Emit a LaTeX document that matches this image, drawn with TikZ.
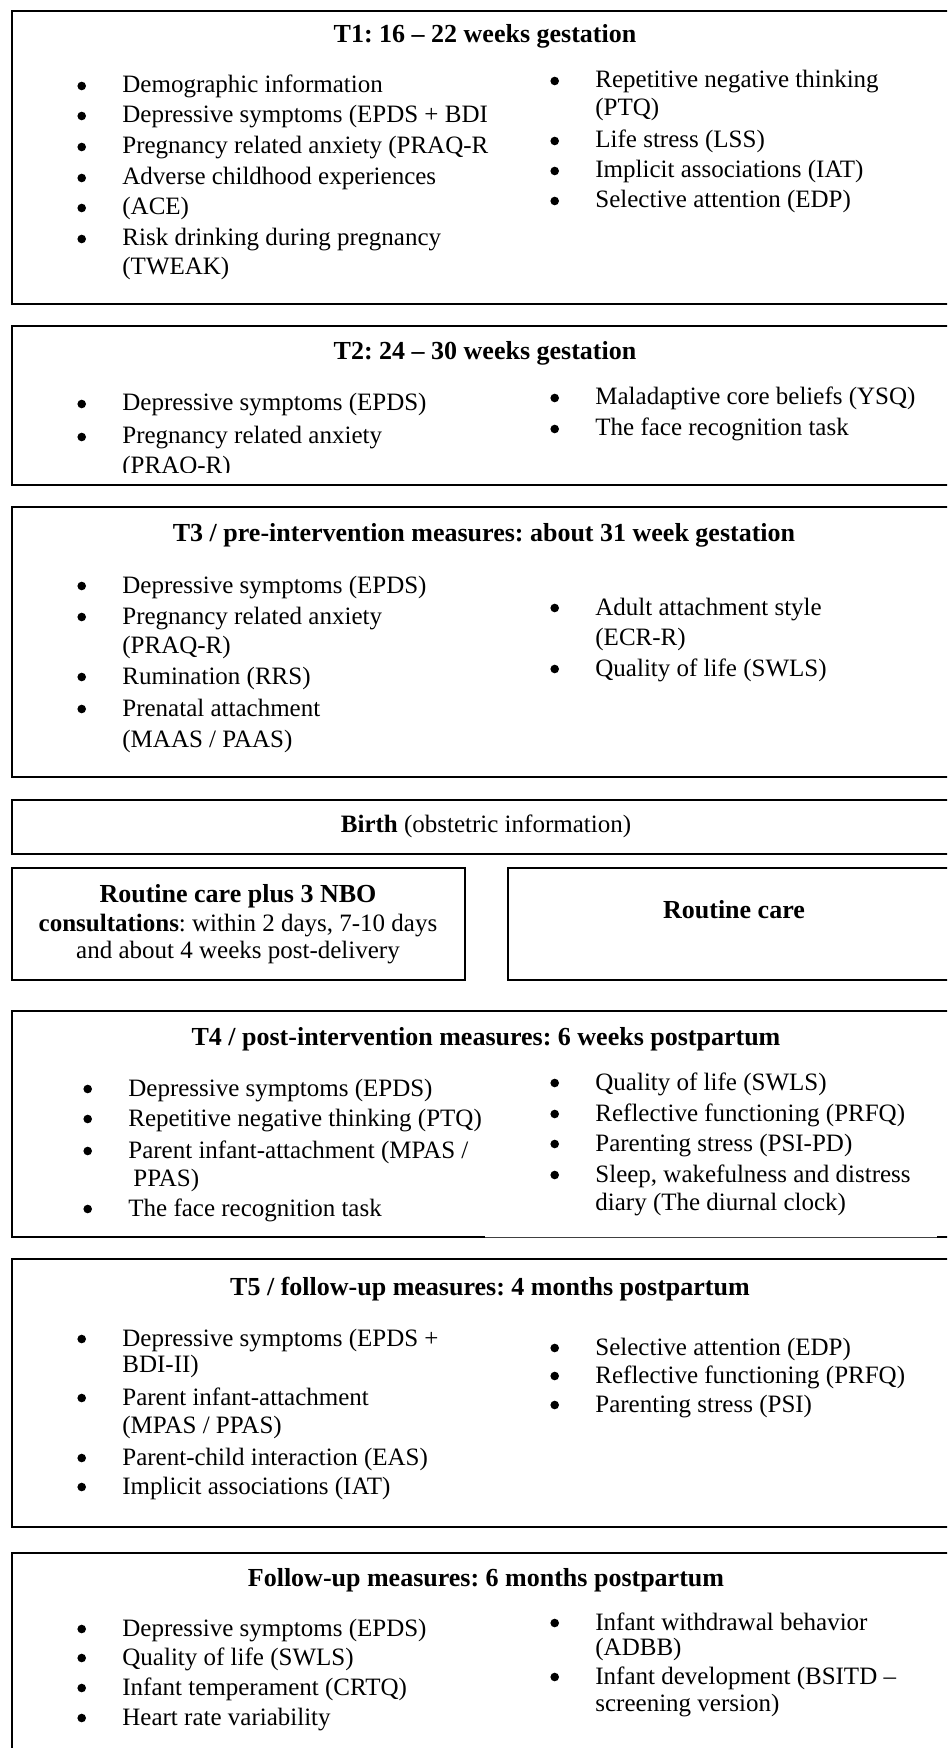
\documentclass[tikz,border=0pt]{standalone}
\usepackage{fontspec}
\setmainfont{Liberation Serif}
\frenchspacing

\begin{document}
\begin{tikzpicture}[
    x=0.5pt, y=-0.5pt,
    panel/.style={rectangle, draw=black, line width=1pt, inner sep=0pt, anchor=north west},
    heading/.style={anchor=base, inner sep=0pt, font=\bfseries\fontsize{13}{15}\selectfont},
    plaintext/.style={anchor=base, inner sep=0pt, font=\fontsize{12.5}{15}\selectfont},
    mtext/.style={anchor=base west, inner sep=0pt, text height=9pt, text depth=3pt, font=\fontsize{12.5}{15}\selectfont},
    bulletdot/.style={circle, fill=black, inner sep=0pt, minimum size=4.3pt, xshift=-17.8pt, yshift=0.5pt},
    measure/.style={mtext, label={[bulletdot]left:{}}}
]
\path[use as bounding box] (0,0) rectangle (947,1748);
\clip (0,0) rectangle (947,1748);

\node[panel, minimum width=474.5pt, minimum height=146.5pt] (t1) at (11,10) {};
\node[heading] (t1head) at (485,43) {T1: 16 – 22 weeks gestation};
\node[measure] (t1a) at (122,93) {Demographic information};
\node[measure] (t1b) at (122,123) {Depressive symptoms (EPDS + BDI};
\node[measure] (t1c) at (122,154) {Pregnancy related anxiety (PRAQ-R};
\node[measure] (t1d) at (122,185) {Adverse childhood experiences};
\node[measure] (t1e) at (122,215) {(ACE)};
\node[measure] (t1f) at (122,246) {Risk drinking during pregnancy};
\node[mtext] (t1f2) at (122,275) {(TWEAK)};
\node[measure] (t1g) at (595,88) {Repetitive negative thinking};
\node[mtext] (t1g2) at (595,116) {(PTQ)};
\node[measure] (t1h) at (595,148) {Life stress (LSS)};
\node[measure] (t1i) at (595,178) {Implicit associations (IAT)};
\node[measure] (t1j) at (595,208) {Selective attention (EDP)};

\node[panel, minimum width=474.5pt, minimum height=79.5pt] (t2) at (11,325) {};
\node[heading] (t2head) at (485,360) {T2: 24 – 30 weeks gestation};
\node[measure] (t2a) at (122,411) {Depressive symptoms (EPDS)};
\node[measure] (t2b) at (122,444) {Pregnancy related anxiety};
\begin{scope}
\clip (0,325) rectangle (947,473);
\node[mtext] (t2b2) at (122,474) {(PRAQ-R)};
\end{scope}
\node[measure] (t2c) at (595,405) {Maladaptive core beliefs (YSQ)};
\node[measure] (t2d) at (595,436) {The face recognition task};

\node[panel, minimum width=474.5pt, minimum height=135pt] (t3) at (11,506) {};
\node[heading] (t3head) at (484,541) {T3 / pre-intervention measures: about 31 week gestation};
\node[measure] (t3a) at (122,593) {Depressive symptoms (EPDS)};
\node[measure] (t3b) at (122,624) {Pregnancy related anxiety};
\node[mtext] (t3b2) at (122,653) {(PRAQ-R)};
\node[measure] (t3c) at (122,684) {Rumination (RRS)};
\node[measure] (t3d) at (122,716) {Prenatal attachment};
\node[mtext] (t3d2) at (122,747) {(MAAS / PAAS)};
\node[measure] (t3e) at (595,615) {Adult attachment style};
\node[mtext] (t3e2) at (595,645) {(ECR-R)};
\node[measure] (t3f) at (595,676) {Quality of life (SWLS)};

\node[panel, minimum width=474.5pt, minimum height=27pt] (birth) at (11,799) {};
\node[plaintext] (birthtext) at (486,832) {\textbf{Birth} (obstetric information)};

\node[panel, minimum width=226.5pt, minimum height=56pt] (nbo) at (11,867) {};
\node[heading] (nbo1) at (238,902) {Routine care plus 3 NBO};
\node[plaintext] (nbo2) at (238,931) {\textbf{consultations}: within 2 days, 7-10 days};
\node[plaintext] (nbo3) at (238,958) {and about 4 weeks post-delivery};
\node[panel, minimum width=226.5pt, minimum height=56pt] (routine) at (507,867) {};
\node[heading] (routinetext) at (734,918) {Routine care};

\node[panel, minimum width=474.5pt, minimum height=113pt] (t4) at (11,1010) {};
\draw[white, line width=1.6pt] (485,1236) -- (937,1236);
\draw[black!75, line width=0.4pt] (485,1237) -- (937,1237);
\node[heading] (t4head) at (486,1045) {T4 / post-intervention measures: 6 weeks postpartum};
\node[measure] (t4a) at (128,1096) {Depressive symptoms (EPDS)};
\node[measure] (t4b) at (128,1126) {Repetitive negative thinking (PTQ)};
\node[measure] (t4c) at (128,1158) {Parent infant-attachment (MPAS /};
\node[mtext] (t4c2) at (133,1186) {PPAS)};
\node[measure] (t4d) at (128,1216) {The face recognition task};
\node[measure] (t4e) at (595,1090) {Quality of life (SWLS)};
\node[measure] (t4f) at (595,1121) {Reflective functioning (PRFQ)};
\node[measure] (t4g) at (595,1151) {Parenting stress (PSI-PD)};
\node[measure] (t4h) at (595,1182) {Sleep, wakefulness and distress};
\node[mtext] (t4h2) at (595,1210) {diary (The diurnal clock)};

\node[panel, minimum width=474.5pt, minimum height=134pt] (t5) at (11,1258) {};
\node[heading] (t5head) at (490,1295) {T5 / follow-up measures: 4 months postpartum};
\node[measure] (t5a) at (122,1346) {Depressive symptoms (EPDS +};
\node[mtext] (t5a2) at (122,1372) {BDI-II)};
\node[measure] (t5b) at (122,1405) {Parent infant-attachment};
\node[mtext] (t5b2) at (122,1433) {(MPAS / PPAS)};
\node[measure] (t5c) at (122,1465) {Parent-child interaction (EAS)};
\node[measure] (t5d) at (122,1494) {Implicit associations (IAT)};
\node[measure] (t5e) at (595,1355) {Selective attention (EDP)};
\node[measure] (t5f) at (595,1383) {Reflective functioning (PRFQ)};
\node[measure] (t5g) at (595,1412) {Parenting stress (PSI)};

\node[panel, minimum width=474.5pt, minimum height=130pt] (t6) at (11,1552) {};
\node[heading] (t6head) at (486,1586) {Follow-up measures: 6 months postpartum};
\node[measure] (t6a) at (122,1636) {Depressive symptoms (EPDS)};
\node[measure] (t6b) at (122,1665) {Quality of life (SWLS)};
\node[measure] (t6c) at (122,1695) {Infant temperament (CRTQ)};
\node[measure] (t6d) at (122,1725) {Heart rate variability};
\node[measure] (t6e) at (595,1630) {Infant withdrawal behavior};
\node[mtext] (t6e2) at (595,1655) {(ADBB)};
\node[measure] (t6f) at (595,1684) {Infant development (BSITD –};
\node[mtext] (t6f2) at (595,1711) {screening version)};
\end{tikzpicture}
\end{document}
